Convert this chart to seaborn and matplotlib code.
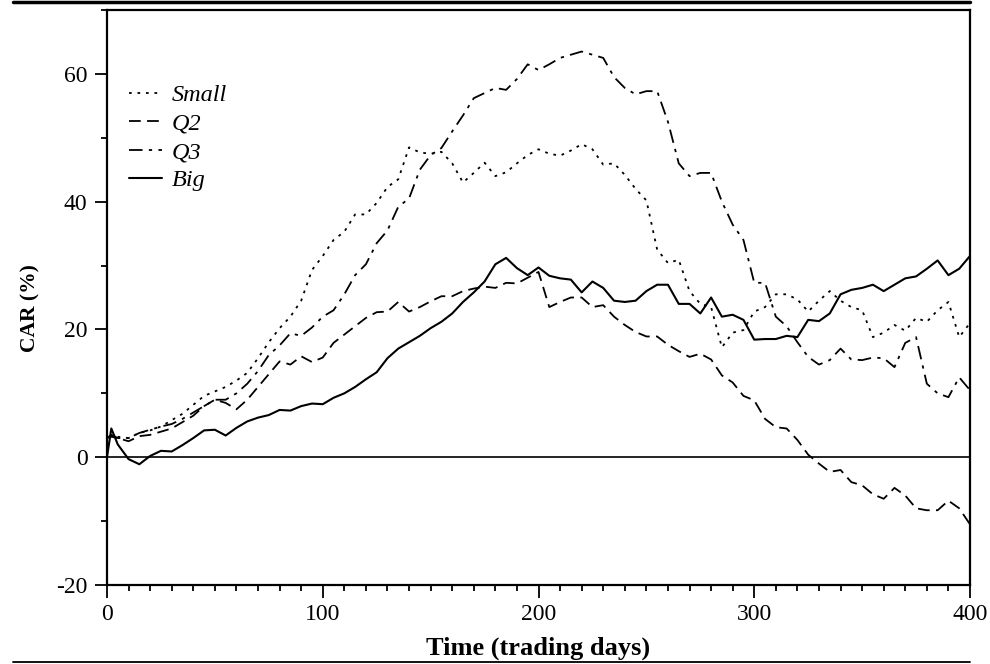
import numpy as np
import pandas as pd
import matplotlib
matplotlib.use("Agg")
import matplotlib.pyplot as plt
from matplotlib.lines import Line2D
from matplotlib.ticker import MultipleLocator
import seaborn as sns

days = [0, 2] + list(range(5, 401, 5))

small = [2.0, 3.5, 3.2, 3.0, 3.8, 4.2, 4.8, 5.8, 6.8, 8.2, 9.6, 10.3,
         11.0, 12.0, 13.2, 15.5, 18.0, 20.2, 22.0, 24.5, 29.3, 31.5,
         34.0, 35.3, 38.0, 38.0, 39.8, 42.3, 43.5, 48.5, 47.7, 47.5,
         47.8, 46.0, 43.0, 44.5, 46.1, 44.0, 44.6, 46.0, 47.3, 48.2,
         47.5, 47.2, 48.0, 49.0, 48.2, 45.8, 46.0, 44.2, 42.0, 40.2,
         32.5, 30.4, 30.9, 26.0, 24.0, 23.5, 17.2, 19.5, 19.9, 22.8,
         23.5, 25.5, 25.5, 24.7, 22.8, 24.5, 26.0, 24.5, 23.5, 23.0,
         18.8, 19.5, 20.7, 19.8, 21.8, 21.2, 23.0, 24.3, 18.8, 21.0]

q2 = [3.0, 3.5, 3.0, 2.5, 3.3, 3.5, 4.0, 4.5, 5.5, 6.5, 8.0, 9.0,
      8.5, 7.5, 9.0, 11.0, 13.0, 15.0, 14.5, 15.8, 14.9, 15.6,
      17.9, 19.2, 20.5, 21.8, 22.7, 22.8, 24.3, 22.8, 23.5, 24.4,
      25.2, 25.2, 26.0, 26.4, 26.7, 26.5, 27.3, 27.2, 28.1, 29.0,
      23.5, 24.3, 25.0, 25.0, 23.5, 23.8, 22.0, 20.7, 19.6, 18.9,
      18.9, 17.6, 16.6, 15.7, 16.2, 15.3, 12.8, 11.7, 9.6, 8.9,
      6.0, 4.7, 4.5, 2.7, 0.4, -1.0, -2.3, -2.0, -3.9, -4.4,
      -5.8, -6.5, -4.8, -6.0, -8.0, -8.3, -8.3, -6.8, -8.0, -10.5]

q3 = [3.0, 3.2, 3.0, 3.0, 3.8, 4.3, 4.8, 5.2, 6.0, 7.0, 8.0, 9.0,
      9.0, 10.0, 11.5, 13.5, 16.0, 17.5, 19.4, 19.0, 20.3, 22.0,
      23.0, 25.5, 28.5, 30.2, 33.5, 35.5, 39.2, 40.5, 45.0, 47.3,
      48.4, 51.0, 53.5, 56.2, 57.0, 57.8, 57.5, 59.2, 61.5, 60.6,
      61.5, 62.5, 63.0, 63.5, 63.0, 62.5, 59.5, 57.8, 56.8, 57.3,
      57.3, 52.5, 46.0, 44.0, 44.5, 44.5, 40.0, 36.4, 34.0, 27.3,
      27.3, 22.0, 20.5, 18.0, 15.7, 14.5, 15.2, 17.0, 15.3, 15.2,
      15.6, 15.5, 14.1, 17.9, 18.8, 11.5, 10.0, 9.4, 12.5, 10.5]

big = [0.0, 4.5, 2.0, -0.3, -1.1, 0.2, 1.0, 0.9, 1.9, 3.0, 4.2, 4.3,
       3.4, 4.6, 5.6, 6.2, 6.6, 7.4, 7.3, 8.0, 8.4, 8.3,
       9.3, 10.0, 11.0, 12.2, 13.3, 15.5, 17.0, 18.0, 19.0, 20.2,
       21.2, 22.5, 24.3, 25.8, 27.5, 30.2, 31.2, 29.6, 28.5, 29.7,
       28.4, 28.0, 27.8, 25.8, 27.5, 26.5, 24.5, 24.3, 24.5, 26.0,
       27.0, 27.0, 24.0, 24.0, 22.5, 25.0, 22.0, 22.3, 21.5, 18.4,
       18.5, 18.5, 19.0, 18.8, 21.5, 21.3, 22.5, 25.5, 26.2, 26.5,
       27.0, 26.0, 27.0, 28.0, 28.3, 29.5, 30.8, 28.5, 29.5, 31.5]

series_names = ["Small", "Q2", "Q3", "Big"]
series_values = [small, q2, q3, big]

df = pd.concat(
    [pd.DataFrame({"day": days, "car": vals, "series": name})
     for name, vals in zip(series_names, series_values)],
    ignore_index=True)

sns.set_theme(style="white")
plt.rcParams["font.family"] = ["Liberation Serif", "DejaVu Serif"]
plt.rcParams["axes.unicode_minus"] = False
plt.rcParams["text.color"] = "black"
plt.rcParams["axes.labelcolor"] = "black"
plt.rcParams["xtick.color"] = "black"
plt.rcParams["ytick.color"] = "black"

fig = plt.figure(figsize=(9.9, 6.64), dpi=100)
ax = fig.add_axes([107 / 990, 1 - 585 / 664, (970 - 107) / 990, (585 - 10) / 664])

dash_map = {"Small": (1.5, 3.2), "Q2": (6.5, 3.5), "Q3": (7.5, 3.5, 1.8, 3.5), "Big": ""}
sns.lineplot(data=df, x="day", y="car", style="series", style_order=series_names,
             dashes=dash_map, color="black", linewidth=1.3, ax=ax, legend=False,
             estimator=None, sort=True)
ax.get_lines()[3].set_linewidth(1.5)

ax.axhline(0, color="black", linewidth=1.2, zorder=1)

ax.set_xlim(0, 400)
ax.set_ylim(-20, 70)
ax.xaxis.set_major_locator(MultipleLocator(100))
ax.xaxis.set_minor_locator(MultipleLocator(10))
ax.yaxis.set_major_locator(MultipleLocator(20))
ax.yaxis.set_minor_locator(MultipleLocator(10))
ax.tick_params(axis="both", which="major", direction="out", length=9, width=1.3,
               labelsize=17, colors="black", labelcolor="black", pad=5)
ax.tick_params(axis="both", which="minor", direction="out", length=4.5, width=1.3,
               colors="black")
ax.tick_params(bottom=True, left=True, top=False, right=False, which="both")
for s in ax.spines.values():
    s.set_visible(True)
    s.set_color("black")
    s.set_linewidth(1.6)

ax.set_xlabel("Time (trading days)", fontsize=19, fontweight="bold", color="black")
ax.set_ylabel("CAR (%)", fontsize=15.5, fontweight="bold", color="black")
ax.xaxis.set_label_coords(0.5, (585 - 648) / 575, transform=ax.transAxes)
ax.xaxis.label.set_va("center")
ax.yaxis.set_label_coords((30 - 107) / 863, (585 - 308) / 575, transform=ax.transAxes)
ax.yaxis.label.set_va("center")

handles = [Line2D([], [], color="black", linewidth=1.3, linestyle="--",
                  dashes=dash_map[n]) for n in series_names[:3]]
handles.append(Line2D([], [], color="black", linewidth=1.5, linestyle="-"))
leg = ax.legend(handles, series_names, loc="upper left",
                bbox_to_anchor=(3 / 863, (585 - 65) / 575),
                frameon=False, handlelength=1.35, handletextpad=0.4, labelspacing=0.26,
                borderpad=0.3,
                prop={"family": "Liberation Serif", "style": "italic", "size": 17.5})
for t in leg.get_texts():
    t.set_color("black")

fig.add_artist(Line2D([13 / 990, 970 / 990], [1 - 1.5 / 664, 1 - 1.5 / 664],
                      transform=fig.transFigure, color="black", linewidth=2.5))
fig.add_artist(Line2D([13 / 990, 970 / 990], [1 - 662 / 664, 1 - 662 / 664],
                      transform=fig.transFigure, color="black", linewidth=1.3))

fig.savefig("out.png", dpi=100, facecolor="white")
